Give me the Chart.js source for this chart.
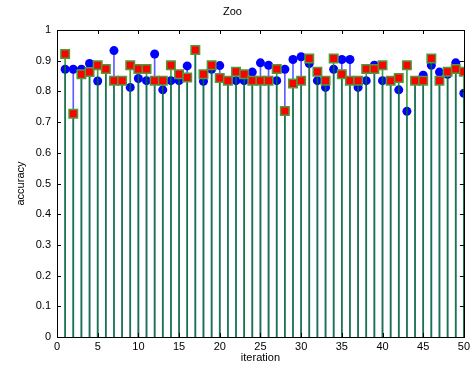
<!DOCTYPE html>
<html>
<head>
<meta charset="utf-8">
<script src="https://cdn.jsdelivr.net/npm/chart.js@4/dist/chart.umd.min.js"></script>
<style>
  html, body { margin: 0; padding: 0; background: #fff; }
  #wrap { width: 473px; height: 368px; }
</style>
</head>
<body>
<div id="wrap"><canvas id="chart"></canvas></div>
<script>
const iterations = Array.from({length: 50}, (_, i) => i + 1);
const blueAcc = [0.872, 0.872, 0.872, 0.891, 0.834, 0.872, 0.933, 0.835, 0.813, 0.842,
                 0.835, 0.922, 0.805, 0.835, 0.835, 0.883, 0.933, 0.833, 0.872, 0.884,
                 0.835, 0.835, 0.835, 0.863, 0.893, 0.885, 0.835, 0.872, 0.904, 0.913,
                 0.891, 0.835, 0.813, 0.872, 0.904, 0.904, 0.813, 0.835, 0.885, 0.835,
                 0.835, 0.805, 0.735, 0.835, 0.853, 0.885, 0.863, 0.856, 0.893, 0.794];
const redAcc = [0.922, 0.727, 0.856, 0.863, 0.885, 0.873, 0.835, 0.835, 0.885, 0.873,
                0.873, 0.835, 0.835, 0.885, 0.856, 0.845, 0.935, 0.856, 0.885, 0.844,
                0.835, 0.864, 0.856, 0.835, 0.835, 0.835, 0.873, 0.736, 0.826, 0.835,
                0.907, 0.864, 0.835, 0.907, 0.856, 0.835, 0.835, 0.873, 0.873, 0.885,
                0.835, 0.844, 0.885, 0.835, 0.835, 0.907, 0.835, 0.864, 0.873, 0.864];
const xTicks = [0, 5, 10, 15, 20, 25, 30, 35, 40, 45, 50];
const yTicks = [0, 0.1, 0.2, 0.3, 0.4, 0.5, 0.6, 0.7, 0.8, 0.9, 1];
const yTickLabels = ['0', '0.1', '0.2', '0.3', '0.4', '0.5', '0.6', '0.7', '0.8', '0.9', '1'];

const pts = arr => arr.map((v, i) => ({x: iterations[i], y: v}));
const font = {family: "'Liberation Sans', Arial, sans-serif", size: 11, weight: 'normal'};

// matlab style box with inward ticks
const boxTicks = {
    id: 'boxTicks',
    afterDraw(chart) {
        const {ctx, chartArea: a, scales: {x, y}} = chart;
        ctx.save();
        ctx.strokeStyle = '#000';
        ctx.lineWidth = 1;
        ctx.beginPath();
        xTicks.forEach(t => {
            const px = Math.round(x.getPixelForValue(t)) + 0.5;
            ctx.moveTo(px, a.bottom); ctx.lineTo(px, a.bottom - 4);
            ctx.moveTo(px, a.top); ctx.lineTo(px, a.top + 4);
        });
        yTicks.forEach(t => {
            const py = Math.round(y.getPixelForValue(t)) + 0.5;
            ctx.moveTo(a.left, py); ctx.lineTo(a.left + 4, py);
            ctx.moveTo(a.right, py); ctx.lineTo(a.right - 4, py);
        });
        ctx.stroke();
        ctx.strokeRect(Math.round(a.left) + 0.5, Math.round(a.top) + 0.5,
            Math.round(a.right - a.left), Math.round(a.bottom - a.top));
        ctx.restore();
    }
};

new Chart(document.getElementById('chart'), {
    type: 'scatter',
    data: {
        datasets: [
            {
                type: 'scatter',
                data: pts(redAcc),
                pointStyle: 'rect',
                pointRadius: 6,
                backgroundColor: '#ff0000',
                borderColor: '#4c9c3c',
                borderWidth: 1.5,
                order: 0,
            },
            {
                type: 'bar',
                data: pts(redAcc),
                backgroundColor: 'rgba(0,128,0,0.75)',
                barThickness: 1,
                grouped: false,
                order: 1,
            },
            {
                type: 'scatter',
                data: pts(blueAcc),
                pointStyle: 'circle',
                pointRadius: 4.5,
                backgroundColor: '#0000ff',
                borderColor: '#0000ff',
                borderWidth: 0,
                order: 2,
            },
            {
                type: 'bar',
                data: pts(blueAcc),
                backgroundColor: 'rgba(40,40,255,0.75)',
                barThickness: 1,
                grouped: false,
                order: 3,
            },
        ],
    },
    options: {
        responsive: true,
        maintainAspectRatio: false,
        animation: false,
        layout: {padding: {left: 0, right: 8, top: 0, bottom: 0}},
        plugins: {
            legend: {display: false},
            tooltip: {enabled: false},
            title: {
                display: true,
                text: 'Zoo',
                color: '#000',
                font: font,
                padding: {top: 5, bottom: 11.8},
            },
        },
        scales: {
            x: {
                type: 'linear',
                min: 0,
                max: 50,
                offset: false,
                grid: {display: false, drawTicks: false},
                border: {display: false},
                afterBuildTicks: s => { s.ticks = xTicks.map(v => ({value: v})); },
                afterFit: s => { s.height = 31; },
                ticks: {color: '#000', font: font, padding: 3, maxRotation: 0},
                title: {display: true, text: 'iteration', color: '#000', font: font, padding: {top: 0, bottom: 3}},
            },
            y: {
                type: 'linear',
                min: 0,
                max: 1,
                grid: {display: false, drawTicks: false},
                border: {display: false},
                afterBuildTicks: s => { s.ticks = yTicks.map(v => ({value: v})); },
                afterFit: s => { s.width = 57; },
                ticks: {
                    color: '#000',
                    font: font,
                    padding: 6,
                    callback: (v) => yTickLabels[yTicks.indexOf(v)] ?? '',
                },
                title: {display: true, text: 'accuracy', color: '#000', font: font, padding: {top: 14, bottom: 0}},
            },
        },
    },
    plugins: [boxTicks],
});
</script>
</body>
</html>
